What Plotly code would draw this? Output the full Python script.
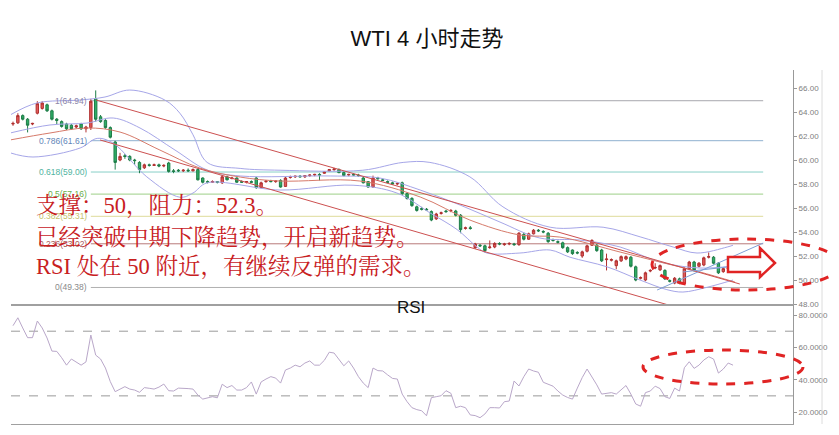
import plotly.graph_objects as go

# ---------------- data ----------------
open_ = [63.00, 63.10, 63.70, 63.40, 63.00, 63.90, 64.30, 64.60, 64.10, 63.40,
         63.20, 63.00, 62.90, 62.75, 63.00, 62.60, 62.70, 65.10, 63.60, 63.30,
         62.70, 61.50, 60.00, 60.35, 60.30, 60.00, 59.80, 59.35, 59.60, 59.55,
         59.60, 59.50, 59.75, 59.10, 59.15, 59.10, 59.15, 59.10, 59.20, 58.50,
         58.20, 58.15, 58.20, 58.10, 58.60, 58.45, 58.50, 58.20, 58.15, 58.20,
         58.50, 57.70, 58.20, 58.25, 58.20, 58.30, 57.80, 58.55, 58.60, 58.65,
         58.60, 58.70, 58.75, 58.80, 58.90, 59.10, 59.20, 59.20, 58.95, 58.75,
         58.80, 58.75, 58.50, 58.20, 57.75, 58.50, 58.35, 58.20, 58.10, 58.00,
         58.10, 57.20, 56.80, 56.10, 55.95, 55.90, 55.70, 55.10, 55.55, 55.75,
         55.75, 55.75, 55.40, 54.30, 54.35, 52.70, 52.90, 52.85, 52.70, 52.75,
         53.05, 52.95, 53.00, 53.00, 52.95, 53.80, 53.40, 53.85, 54.15, 54.05,
         53.90, 53.35, 53.20, 53.10, 52.70, 52.50, 52.30, 52.00, 52.40, 52.90,
         52.90, 52.50, 51.70, 51.65, 51.20, 51.60, 51.75, 51.90, 51.10, 50.15,
         50.00, 50.75, 51.00, 50.85, 50.80, 49.95, 49.75, 50.10, 49.70, 50.95,
         51.50, 51.15, 51.25, 51.90, 51.90, 51.40, 50.70, 50.95, 51.40]
high = [63.20, 63.90, 63.80, 63.50, 63.10, 64.90, 64.90, 64.70, 64.20, 63.50,
        63.30, 63.10, 63.00, 62.95, 63.10, 62.85, 65.10, 65.80, 63.75, 63.40,
        62.80, 61.60, 60.60, 60.50, 60.40, 60.10, 59.90, 59.70, 59.70, 59.70,
        59.70, 59.65, 59.85, 59.25, 59.25, 59.25, 59.30, 59.30, 59.30, 58.55,
        58.30, 58.30, 58.25, 58.75, 58.70, 58.60, 58.55, 58.30, 58.25, 58.30,
        58.60, 58.20, 58.30, 58.35, 58.30, 58.40, 58.60, 58.70, 58.70, 58.75,
        58.75, 58.80, 58.85, 58.90, 59.05, 59.25, 59.35, 59.30, 59.05, 58.85,
        58.90, 58.85, 58.60, 58.25, 58.70, 58.60, 58.45, 58.30, 58.20, 58.15,
        58.20, 57.30, 56.90, 56.20, 56.10, 56.00, 55.80, 55.60, 55.70, 55.85,
        55.90, 55.85, 55.50, 54.45, 54.50, 53.10, 53.00, 52.95, 53.30, 53.15,
        53.15, 53.10, 53.15, 53.10, 54.00, 53.95, 53.95, 54.25, 54.25, 54.15,
        54.00, 53.45, 53.30, 53.20, 52.80, 52.55, 52.40, 52.45, 52.95, 53.40,
        53.00, 52.60, 52.20, 51.80, 51.70, 52.05, 52.05, 52.00, 51.20, 50.30,
        50.70, 50.90, 51.40, 51.30, 50.90, 50.05, 50.25, 50.20, 51.05, 51.60,
        51.60, 51.50, 51.95, 52.30, 52.00, 51.50, 51.05, 51.10, 51.50]
low = [62.85, 63.00, 63.30, 62.30, 62.90, 63.80, 64.20, 64.00, 63.30, 63.00,
       62.70, 62.50, 62.50, 62.65, 62.50, 62.30, 62.50, 63.20, 63.10, 62.60,
       61.80, 59.20, 59.90, 60.10, 59.90, 59.60, 58.90, 59.25, 59.45, 59.50,
       59.40, 59.40, 58.95, 58.90, 59.00, 59.00, 59.00, 59.05, 58.30, 58.05,
       58.05, 58.10, 58.05, 58.00, 58.30, 58.40, 58.10, 58.10, 58.05, 58.10,
       57.60, 57.65, 58.10, 58.15, 58.10, 57.70, 57.75, 58.45, 58.50, 58.55,
       58.50, 58.60, 58.65, 58.30, 58.85, 59.05, 59.10, 58.90, 58.65, 58.65,
       58.70, 58.60, 58.05, 57.70, 57.70, 58.35, 58.25, 58.10, 57.95, 57.90,
       57.10, 56.70, 56.10, 55.70, 55.80, 55.75, 54.90, 55.00, 55.45, 55.60,
       55.65, 55.30, 53.90, 54.20, 54.20, 52.60, 52.75, 52.30, 52.60, 52.65,
       52.90, 52.85, 52.90, 52.85, 52.85, 53.30, 53.35, 53.80, 54.00, 53.90,
       53.10, 53.20, 53.05, 52.60, 52.25, 52.10, 52.15, 51.85, 52.30, 52.85,
       52.35, 51.50, 50.80, 51.55, 50.90, 51.50, 51.65, 51.05, 49.90, 50.05,
       49.90, 50.65, 50.90, 50.75, 50.00, 49.80, 49.65, 49.65, 49.60, 50.85,
       50.70, 51.05, 51.15, 51.80, 51.30, 50.50, 50.60, 50.90, 51.10]
close = [63.05, 63.70, 63.40, 62.90, 63.05, 64.70, 64.75, 64.10, 63.40, 63.30,
         62.80, 62.60, 62.60, 62.85, 62.60, 62.75, 64.90, 63.40, 63.20, 62.70,
         61.90, 59.80, 60.30, 60.30, 60.00, 59.95, 59.20, 59.60, 59.55, 59.60,
         59.50, 59.55, 59.05, 59.05, 59.10, 59.15, 59.10, 59.20, 58.35, 58.15,
         58.15, 58.20, 58.15, 58.60, 58.35, 58.50, 58.15, 58.15, 58.20, 58.15,
         57.70, 58.10, 58.25, 58.20, 58.25, 57.75, 58.50, 58.60, 58.65, 58.60,
         58.70, 58.75, 58.80, 58.75, 59.00, 59.20, 59.25, 58.95, 58.70, 58.80,
         58.75, 58.70, 58.10, 57.75, 58.50, 58.45, 58.30, 58.15, 58.00, 58.05,
         57.20, 56.80, 56.20, 55.80, 55.90, 55.85, 55.00, 55.50, 55.60, 55.70,
         55.80, 55.40, 54.20, 54.35, 54.30, 53.00, 52.85, 52.45, 52.75, 53.05,
         53.00, 53.00, 53.05, 52.95, 53.90, 53.40, 53.85, 54.15, 54.10, 54.00,
         53.20, 53.30, 53.15, 52.70, 52.35, 52.20, 52.25, 52.35, 52.85, 53.30,
         52.45, 51.60, 51.75, 51.70, 51.60, 51.95, 51.95, 51.15, 50.00, 50.20,
         50.60, 50.80, 51.05, 51.20, 50.10, 49.90, 50.15, 49.75, 50.95, 51.50,
         50.80, 51.40, 51.85, 51.95, 51.40, 50.60, 50.95, 51.00, 51.20]

rsi = [73.4, 78.3, 72, 66, 66, 76.3, 72, 65.8, 57.7, 57.5,
       53.6, 49, 52.8, 51, 49, 51, 67.6, 55.2, 52.8, 47.2,
       38.8, 32.6, 34.2, 35.7, 34.2, 33.6, 32.2, 35.1, 34.7, 34.2,
       35.4, 37.3, 33.2, 33, 34.8, 34.8, 34.5, 34.2, 30.5, 28,
       28.8, 29.5, 28.8, 37.2, 35.1, 36.4, 33.6, 33.6, 35.1, 38.6,
       31.1, 38.6, 40.4, 41.9, 41, 37.9, 46, 47.2, 49, 48,
       50.3, 51.6, 49, 49, 52, 57, 56.5, 52.8, 48.6, 51.6,
       47.2, 41.9, 37.9, 35.1, 47.2, 45.6, 45.4, 43, 40.8, 40.4,
       31.1, 26.4, 22.7, 21.5, 20.8, 17.7, 28.9, 29.5, 30.1, 33.2,
       31.6, 22.7, 23.6, 22.7, 18.2, 17.8, 16.5, 18.8, 22.7, 22.7,
       22.5, 26.4, 26.8, 39.2, 36.1, 41.9, 46.6, 45.4, 44.6, 38.4,
       37.2, 36, 33, 30.5, 29, 28, 34.8, 41.3, 46.6, 41.9,
       36.8, 31.1, 31.6, 32, 31.1, 34, 36.4, 31.1, 25, 23.6,
       32, 33, 36, 34.5, 29.5, 28.4, 34.8, 33, 47.4, 51.1,
       47, 49, 52.2, 54.2, 52.8, 44.1, 46.6, 50.3, 49]

bb_upper_x = [-0.6, 4.9, 13.8, 18.9, 24.0, 31.2, 34.3, 37.0, 39.9, 46.7, 54.9, 71.9,
              80.2, 85.7, 93.9, 100.7, 110.4, 121.3, 128.9, 135.7, 140.6, 146.8, 148]
bb_upper = [63.75, 64.75, 65.0, 65.25, 65.83, 65.0, 63.9, 62.1, 59.8, 59.3, 59.15, 59.15,
            59.8, 59.8, 58.6, 56.1, 54.4, 54.4, 53.6, 52.75, 52.25, 52.75, 52.9]
bb_mid_x = [-0.6, 7.6, 15.2, 20.6, 26.1, 33.3, 39.9, 46.7, 65.2, 75.4, 83.7, 91.9,
            100.1, 108.3, 116.5, 124.8, 133.0, 141.2, 148]
bb_mid = [62.25, 62.92, 63.08, 63.5, 62.67, 60.83, 59.17, 58.67, 58.67, 58.5, 57.5, 56.25,
          54.83, 53.5, 53.33, 52.75, 51.5, 51.0, 51.17]
bb_lower_x = [-0.6, 4.1, 13.8, 17.3, 20.6, 27.5, 34.3, 37.0, 39.9, 54.9, 69.9, 78.9, 85.7,
              91.3, 95.4, 97.4, 104.2, 110.4, 114.5, 122.1, 128.9, 134.4, 137.7, 142.7, 148]
bb_lower = [60.6, 60.25, 61.0, 61.8, 61.4, 58.6, 56.9, 57.25, 58.1, 57.5, 57.9, 57.25, 55.6,
            54.2, 52.75, 52.25, 52.25, 52.5, 51.9, 51.1, 50.0, 49.2, 49.0, 49.4, 50.0]
ma_x = [-0.6, 7.6, 15.2, 22.0, 30.2, 38.4, 46.7, 54.9, 71.3, 83.7, 93.9, 104.2, 112.4,
        124.8, 133.0, 141.2, 148.4]
ma = [61.67, 62.25, 62.67, 62.33, 60.83, 59.33, 58.58, 58.25, 58.25, 56.92, 55.0, 53.75,
      53.58, 52.33, 51.5, 50.67, 49.83]

channel_upper_x = [17.06, 149.4]
channel_upper = [65.0, 49.67]
channel_lower_x = [17.9, 140.0]
channel_lower = [61.67, 47.3]
rise1_x = [132.4, 154.2]
rise1 = [49.17, 53.08]
rise2_x = [137.7, 154.2]
rise2 = [50.67, 51.42]

fib_ratio = ["1", "0.786", "0.618", "0.5", "0.382", "0.236", "0"]
fib_price = [64.94, 61.61, 59.00, 57.16, 55.31, 53.02, 49.38]
fib_label_color = ["#8a84a8", "#5f86b8", "#4fb3a0", "#6aae4a", "#c4c26a", "#a85c5c", "#8a8a8a"]
fib_line_color = ["#a7a7ae", "#8fb0cf", "#88cfc8", "#9ccf86", "#dedb9a", "#b87a7a", "#b0b0b0"]
fib_x_start = 16.0
fib_x_end = 154.2

price_ticks = [48, 50, 52, 54, 56, 58, 60, 62, 64, 66]
rsi_ticks = [20, 40, 60, 80]

notes = ["支撑：50，阻力：52.3。",
         "已经突破中期下降趋势，开启新趋势。",
         "RSI 处在 50 附近，有继续反弹的需求。"]

# ---------------- figure ----------------
OFF = 8  # page body margin of the browser
W, H = 839 - OFF, 435 - OFF
ML = 11 - OFF
MR = W - (793 - OFF)
MT = 70 - OFF
MB = H - (424 - OFF)
PW = W - ML - MR
PH = H - MT - MB


def px(xp):
    return (xp - OFF - ML) / PW


def py(yp):
    return (H - MB - (yp - OFF)) / PH


split = py(305)
idx = list(range(len(close)))

fig = go.Figure()

band_col = "#a6a6e8"
fig.add_trace(go.Scatter(x=bb_upper_x, y=bb_upper, mode="lines", line=dict(color=band_col, width=1),
                         line_shape="spline", hoverinfo="skip", showlegend=False))
fig.add_trace(go.Scatter(x=bb_mid_x, y=bb_mid, mode="lines", line=dict(color=band_col, width=1),
                         line_shape="spline", hoverinfo="skip", showlegend=False))
fig.add_trace(go.Scatter(x=bb_lower_x, y=bb_lower, mode="lines", line=dict(color=band_col, width=1),
                         line_shape="spline", hoverinfo="skip", showlegend=False))
fig.add_trace(go.Scatter(x=ma_x, y=ma, mode="lines", line=dict(color="#d67a6a", width=1),
                         line_shape="spline", hoverinfo="skip", showlegend=False))
for xs, ys in [(channel_upper_x, channel_upper), (channel_lower_x, channel_lower)]:
    fig.add_trace(go.Scatter(x=xs, y=ys, mode="lines", line=dict(color="#cc5050", width=1),
                             hoverinfo="skip", showlegend=False))
for xs, ys in [(rise1_x, rise1), (rise2_x, rise2)]:
    fig.add_trace(go.Scatter(x=xs, y=ys, mode="lines", line=dict(color="#7f9fd6", width=1),
                             hoverinfo="skip", showlegend=False))

fig.add_trace(go.Candlestick(
    x=idx, open=open_, high=high, low=low, close=close,
    increasing=dict(line=dict(color="#b03030", width=1), fillcolor="#e25a58"),
    decreasing=dict(line=dict(color="#1e7d48", width=1), fillcolor="#2fae66"),
    whiskerwidth=0, showlegend=False, hoverinfo="skip"))

fig.add_trace(go.Scatter(x=list(range(len(rsi))), y=rsi, mode="lines", xaxis="x2", yaxis="y2",
                         line=dict(color="#b9a7c9", width=1), hoverinfo="skip", showlegend=False))

shapes = []
annotations = []

# Fibonacci levels
for r, p, lc, tc in zip(fib_ratio, fib_price, fib_line_color, fib_label_color):
    shapes.append(dict(type="line", xref="x", yref="y", x0=fib_x_start, x1=fib_x_end, y0=p, y1=p,
                       line=dict(color=lc, width=1), layer="below"))
    annotations.append(dict(xref="x", yref="y", x=fib_x_start - 0.3, y=p, text=f"{r}({p:.2f})",
                            showarrow=False, xanchor="right", yanchor="middle",
                            font=dict(family="Liberation Sans", size=8.5, color=tc)))

# RSI reference lines
for lv in [70, 30]:
    shapes.append(dict(type="line", xref="x2 domain", yref="y2", x0=0, x1=1, y0=lv, y1=lv,
                       line=dict(color="#9a9a9a", width=1, dash="dash"), layer="below"))

# light border right of the labels
shapes.append(dict(type="line", xref="paper", yref="paper", x0=px(822), x1=px(822), y0=0, y1=1,
                   line=dict(color="#dcdcdc", width=1)))

# dashed highlight ellipses
red = "#e02424"
shapes.append(dict(type="circle", xref="paper", yref="paper", x0=px(652), x1=px(840),
                   y0=py(290), y1=py(239), line=dict(color=red, width=3, dash="dash")))
shapes.append(dict(type="circle", xref="paper", yref="paper", x0=px(643), x1=px(803),
                   y0=py(384), y1=py(350), line=dict(color=red, width=3, dash="dash")))

# hollow arrow
arrow_pts = [(728, 257), (760, 257), (760, 248), (775, 263), (760, 277), (760, 272), (728, 272)]
path = "M " + " L ".join(f"{px(a):.5f},{py(b):.5f}" for a, b in arrow_pts) + " Z"
shapes.append(dict(type="path", xref="paper", yref="paper", path=path,
                   line=dict(color=red, width=2.5), fillcolor="white"))

# red commentary text
for t, yc in zip(notes, [206, 238, 267]):
    annotations.append(dict(xref="paper", yref="paper", x=px(34), y=py(yc), text=t,
                            showarrow=False, xanchor="left", yanchor="middle",
                            font=dict(family="Liberation Serif, Noto Serif CJK SC, Noto Sans CJK SC",
                                      size=22.5, color="#c8201e")))

# RSI title
annotations.append(dict(xref="paper", yref="paper", x=px(411), y=py(307), text="RSI",
                        showarrow=False, xanchor="center", yanchor="middle",
                        font=dict(family="Liberation Sans", size=17, color="#111111")))

x_range = [(11 - 13) / 4.865, (793 - 13) / 4.865]

fig.update_layout(
    width=W, height=H,
    margin=dict(l=ML, r=MR, t=MT, b=MB),
    paper_bgcolor="white", plot_bgcolor="white",
    title=dict(text="WTI 4 小时走势", x=(427 - OFF) / W, xref="container", xanchor="center",
               y=1 - (38 - OFF) / H, yanchor="middle",
               font=dict(family="Liberation Sans, Noto Sans CJK SC", size=22, color="#111111")),
    xaxis=dict(domain=[0, 1], anchor="y", range=x_range, showticklabels=False, ticks="",
               showgrid=False, zeroline=False, showline=True, linecolor="#a0a0a0", linewidth=1,
               rangeslider=dict(visible=False), fixedrange=True),
    yaxis=dict(domain=[split, 1], anchor="x", range=[47.92, 67.5], side="right",
               tickvals=price_ticks, tickformat=".2f", ticks="outside", ticklen=3,
               tickcolor="#999999", showgrid=False, zeroline=False, showline=True,
               linecolor="#999999", linewidth=1,
               tickfont=dict(family="Liberation Sans", size=8, color="#808080")),
    xaxis2=dict(domain=[0, 1], anchor="y2", range=x_range, showticklabels=False, ticks="",
                showgrid=False, zeroline=False, showline=True, mirror=True,
                linecolor="#a0a0a0", linewidth=1),
    yaxis2=dict(domain=[0, split], anchor="x2", range=[12.6, 86.2], side="right",
                tickvals=rsi_ticks, tickformat=".4f", ticks="outside", ticklen=3,
                tickcolor="#999999", showgrid=False, zeroline=False, showline=True,
                linecolor="#999999", linewidth=1,
                tickfont=dict(family="Liberation Sans", size=8, color="#808080")),
    shapes=shapes, annotations=annotations, showlegend=False,
)

fig.write_html("out.html")
